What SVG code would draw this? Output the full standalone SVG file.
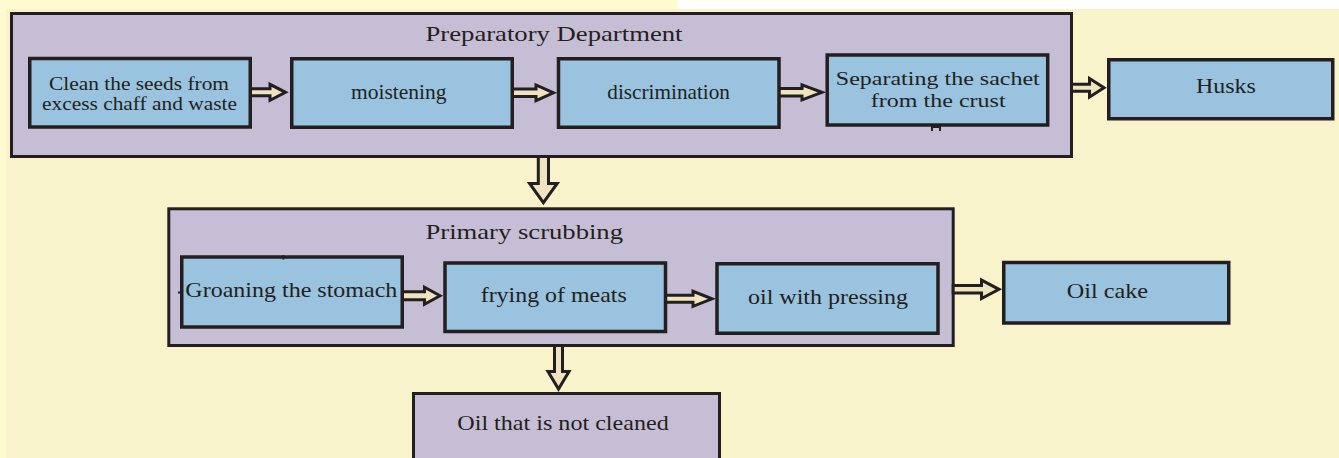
<svg xmlns="http://www.w3.org/2000/svg" width="1339" height="458" viewBox="0 0 1339 458">
<style>
.cont{fill:#C6BED5;stroke:#231F20;stroke-width:3}
.box{fill:#99C3DE;stroke:#231F20;stroke-width:3.5}
.arr{fill:#EFE4C0;stroke:#231F20;stroke-width:3;stroke-linejoin:miter}
.t{font-family:"Liberation Serif","Times New Roman",serif;font-size:22px;fill:#231F20}
.s{font-size:18px}
.s2{font-size:18.5px}
.mk{fill:none;stroke:#231F20;stroke-width:2}
</style>
<rect x="0" y="0" width="1339" height="458" fill="#FFFBD1"/>
<rect x="6" y="9" width="1333" height="449" fill="#F8F3CB"/>
<rect x="678" y="0" width="661" height="9" fill="#FFFFFF"/>

<g id="preparatory-department">
<rect class="cont" x="11.5" y="13.5" width="1060" height="143"/>
<text class="t" x="425.5" y="40.7" textLength="257" lengthAdjust="spacingAndGlyphs">Preparatory Department</text>
</g>
<g id="primary-scrubbing">
<rect class="cont" x="168.8" y="208.8" width="784.4" height="136.7"/>
<text class="t" x="425.5" y="238.7" textLength="197.5" lengthAdjust="spacingAndGlyphs">Primary scrubbing</text>
</g>
<g id="oil-not-cleaned">
<rect class="cont" x="413.5" y="393.5" width="306" height="90"/>
<text class="t" x="457.3" y="430" textLength="211.4" lengthAdjust="spacingAndGlyphs">Oil that is not cleaned</text>
</g>

<g id="connectors">
<path class="arr" d="M245,88.8 H270 V84.3 L285.5,92.3 L270,100.3 V95.8 H245 Z"/>
<path class="arr" d="M508,89.1 H536 V85 L553.5,92.8 L536,100.6 V96.5 H508 Z"/>
<path class="arr" d="M775,88.6 H802 V84.8 L822,92.3 L802,99.8 V96 H775 Z"/>
<path class="arr" d="M1071.5,84.2 H1089.5 V78.5 L1104,87.7 L1089.5,96.9 V91.2 H1071.5 Z"/>
<path class="arr" d="M538.3,156.5 V183.5 H529.6 L543.4,202.7 L557.2,183.5 H548.5 V156.5 Z"/>
<path class="arr" d="M398,291.8 H424.5 V287.3 L440,295.8 L424.5,304.3 V299.8 H398 Z"/>
<path class="arr" d="M661,295.3 H693 V291.3 L712,298.8 L693,306.3 V302.3 H661 Z"/>
<path class="arr" d="M953.2,285.5 H981.5 V280.1 L999,289.3 L981.5,298.5 V293.1 H953.2 Z"/>
<path class="arr" d="M554.5,345.5 V371.5 H548 L558.5,389 L569,371.5 H562.5 V345.5 Z"/>
</g>

<g id="clean-seeds">
<rect class="box" x="29.75" y="58.5" width="220.5" height="68.5"/>
<text class="t s" x="49" y="89.5" textLength="180" lengthAdjust="spacingAndGlyphs">Clean the seeds from</text>
<text class="t s" x="42" y="110" textLength="195" lengthAdjust="spacingAndGlyphs">excess chaff and waste</text>
</g>
<g id="moistening">
<rect class="box" x="291.75" y="58.75" width="220.5" height="68.5"/>
<text class="t" x="351" y="99.3" textLength="95.5" lengthAdjust="spacingAndGlyphs">moistening</text>
</g>
<g id="discrimination">
<rect class="box" x="558.5" y="58.75" width="220.5" height="68.5"/>
<text class="t" x="607.3" y="98.7" textLength="122.7" lengthAdjust="spacingAndGlyphs">discrimination</text>
</g>
<g id="separating">
<rect class="box" x="827.2" y="55" width="220.5" height="70"/>
<text class="t s2" x="835.8" y="85" textLength="204" lengthAdjust="spacingAndGlyphs">Separating the sachet</text>
<text class="t s2" x="870.8" y="106.5" textLength="134.8" lengthAdjust="spacingAndGlyphs">from the crust</text>
<path class="mk" d="M932,131 V127 H940 V131"/>
</g>
<g id="husks">
<rect class="box" x="1108.75" y="59.75" width="224" height="59"/>
<text class="t" x="1196" y="93.3" textLength="59.8" lengthAdjust="spacingAndGlyphs">Husks</text>
</g>
<g id="groaning">
<rect class="box" x="181.75" y="257" width="220.5" height="70"/>
<text class="t" x="185.3" y="296.7" textLength="212" lengthAdjust="spacingAndGlyphs">Groaning the stomach</text>
<path class="mk" d="M283.3,255 V259.5 M178,292.5 H181"/>
</g>
<g id="frying">
<rect class="box" x="445" y="263" width="220.5" height="68.5"/>
<text class="t" x="480.7" y="302" textLength="146" lengthAdjust="spacingAndGlyphs">frying of meats</text>
</g>
<g id="oil-pressing">
<rect class="box" x="717" y="263.75" width="221" height="69.5"/>
<text class="t" x="748" y="304" textLength="160" lengthAdjust="spacingAndGlyphs">oil with pressing</text>
</g>
<g id="oil-cake">
<rect class="box" x="1003.75" y="262.5" width="225" height="60.5"/>
<text class="t" x="1066.7" y="298" textLength="81.3" lengthAdjust="spacingAndGlyphs">Oil cake</text>
</g>
</svg>
